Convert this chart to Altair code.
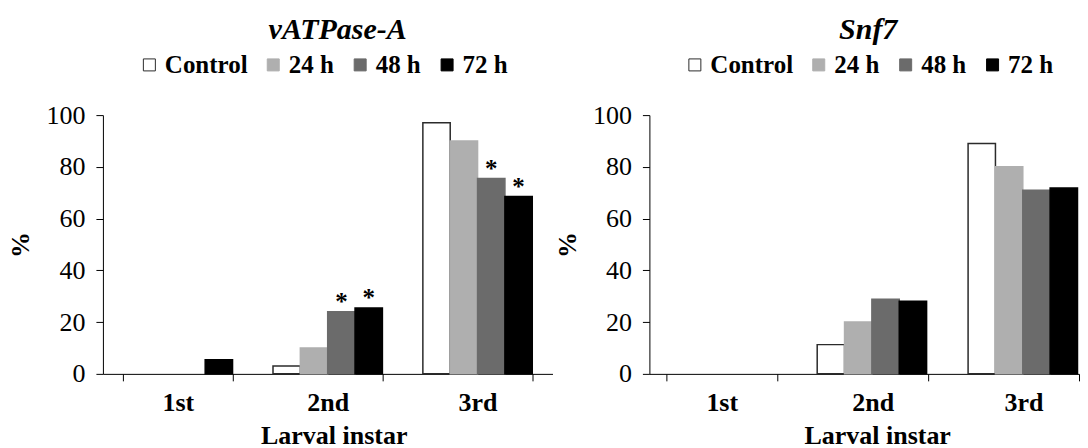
import altair as alt
import pandas as pd

F = "Liberation Serif"

categories = ["1st", "2nd", "3rd"]
series = ["Control", "24 h", "48 h", "72 h"]
fills = ["#ffffff", "#afafaf", "#6b6b6b", "#000000"]
strokes = ["#2b2b2b", "#afafaf", "#6b6b6b", "#000000"]

# vATPase-A (% per larval instar)
vatpase_control = [0, 3, 97]
vatpase_24h = [0, 10, 90]
vatpase_48h = [0, 24, 75.5]
vatpase_72h = [5.5, 25.5, 68.5]
vatpase_sig = [("2nd", "48 h"), ("2nd", "72 h"), ("3rd", "48 h"), ("3rd", "72 h")]

# Snf7 (% per larval instar)
snf7_control = [0, 11.3, 89]
snf7_24h = [0, 20, 80]
snf7_48h = [0, 28.8, 71]
snf7_72h = [0, 28.1, 71.8]
snf7_sig = []


def build_df(values_by_series, sig):
    rows = []
    for s, vals in zip(series, values_by_series):
        for c, v in zip(categories, vals):
            rows.append({"category": c, "series": s, "value": v,
                         "sig": "*" if (c, s) in sig else ""})
    return pd.DataFrame(rows)


df_v = build_df([vatpase_control, vatpase_24h, vatpase_48h, vatpase_72h], vatpase_sig)
df_s = build_df([snf7_control, snf7_24h, snf7_48h, snf7_72h], snf7_sig)


def panel(df, title, width, pad_inner, pad_outer, align, tick_extra,
          legend_x, title_dx, xtitle_x):
    leg = alt.Legend(title=None, orient="none", legendX=legend_x, legendY=-63,
                     direction="horizontal", symbolType="square", symbolSize=144,
                     symbolStrokeWidth=1, labelFont=F, labelFontSize=25,
                     labelFontWeight="bold", labelColor="black", labelOffset=3,
                     columnPadding=13)
    base = alt.Chart(df).encode(
        x=alt.X("category:N", sort=categories,
                scale=alt.Scale(domain=categories, paddingInner=pad_inner,
                                paddingOuter=pad_outer, align=align),
                axis=alt.Axis(title="Larval instar", labelAngle=0, tickBand="extent",
                              tickExtra=tick_extra,
                              tickSize=7, labelPadding=9, titlePadding=7,
                              titleX=xtitle_x, titleAlign="center",
                              labelFontSize=26, labelFontWeight="bold",
                              titleFontSize=26, titleFontWeight="bold")),
        xOffset=alt.XOffset("series:N", sort=series,
                            scale=alt.Scale(domain=series, paddingInner=0, paddingOuter=0)),
        y=alt.Y("value:Q", scale=alt.Scale(domain=[0, 100], nice=False),
                axis=alt.Axis(title="%", values=[0, 20, 40, 60, 80, 100],
                              tickSize=7, labelPadding=11, titlePadding=12,
                              labelFontSize=26, labelFontWeight="normal",
                              titleFontSize=26, titleFontWeight="bold")),
    )
    bars = base.mark_bar(strokeWidth=1.5).encode(
        fill=alt.Fill("series:N", sort=series,
                      scale=alt.Scale(domain=series, range=fills), legend=leg),
        stroke=alt.Stroke("series:N", sort=series,
                          scale=alt.Scale(domain=series, range=strokes), legend=leg),
    ).transform_filter("datum.value > 0")
    stars = base.mark_text(font=F, fontSize=25, fontWeight="bold",
                           baseline="alphabetic", dy=-2, color="black").encode(
        text="sig:N"
    ).transform_filter("datum.sig != ''")
    return alt.layer(bars, stars).properties(
        width=width, height=259,
        title=alt.TitleParams(text=title, font=F, fontSize=30, fontWeight="bold",
                              fontStyle="italic", anchor="middle", dx=title_dx,
                              baseline="alphabetic", offset=-17, color="black"),
    )


left = panel(df_v, "vATPase-A", 450, 0.27, 0.135, 0.5, True, 34, 10, 231)
right = panel(df_s, "Snf7", 430, 0.265, 0.056, 1.0, False, 33, 4, 228)

chart = alt.hconcat(left, right, spacing=2).resolve_scale(
    fill="independent", stroke="independent"
).resolve_legend(fill="independent", stroke="independent").properties(
    padding={"left": 0, "top": 7, "right": 0, "bottom": 0}
).configure_view(stroke=None).configure_axis(
    grid=False, domainColor="black", tickColor="black", labelColor="black",
    titleColor="black", labelFont=F, titleFont=F
)

chart.save("out.html", embed_options={"renderer": "svg", "actions": False})
